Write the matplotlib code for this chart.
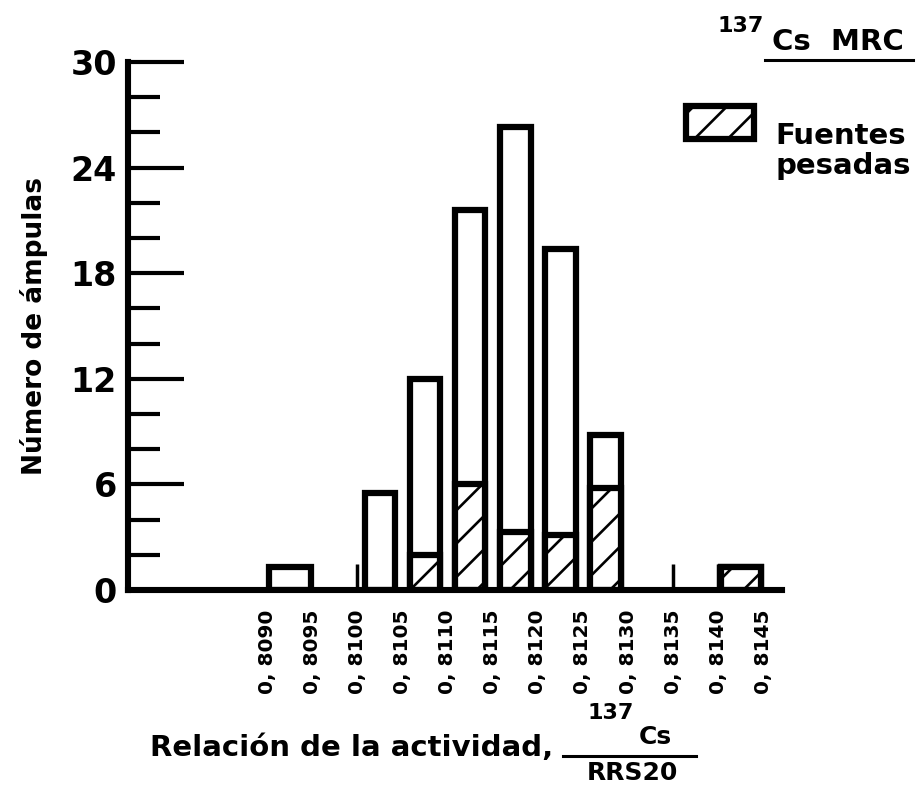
import matplotlib
matplotlib.use("Agg")
import matplotlib.pyplot as plt
from matplotlib.lines import Line2D
from matplotlib.patches import Rectangle

# Histogram of 137Cs activity ratios (bins of 0.0005)
bin_left = [0.8090, 0.8100, 0.8105, 0.8110, 0.8115, 0.8120, 0.8125, 0.8140]
total_counts = [1.3, 5.5, 12.0, 21.6, 26.3, 19.4, 8.8, 1.3]
heavy_counts = [0.0, 0.0, 2.0, 6.0, 3.3, 3.1, 5.8, 1.3]
bar_fraction = [0.93, 0.68, 0.68, 0.68, 0.68, 0.68, 0.68, 0.88]

# small bin-boundary marks on the baseline
edge_marks = [0.8100, 0.8135, 0.8140]
edge_mark_height = 1.5

tick_values = [0.8090, 0.8095, 0.8100, 0.8105, 0.8110, 0.8115,
               0.8120, 0.8125, 0.8130, 0.8135, 0.8140, 0.8145]
tick_labels = ["0, 8090", "0, 8095", "0, 8100", "0, 8105", "0, 8110", "0, 8115",
               "0, 8120", "0, 8125", "0, 8130", "0, 8135", "0, 8140", "0, 8145"]
bin_width = 0.0005

plt.rcParams["font.family"] = ["DejaVu Sans"]
plt.rcParams["font.weight"] = "bold"
plt.rcParams["hatch.linewidth"] = 1.9

LW = 4.5

fig = plt.figure(figsize=(9.16, 7.85), dpi=100)
ax = fig.add_axes([0.1397, 0.2484, 0.8537 - 0.1397, 0.921 - 0.2484])

for left, tot, heavy, frac in zip(bin_left, total_counts, heavy_counts, bar_fraction):
    center = left + bin_width / 2
    w = bin_width * frac
    ax.bar(center, tot, width=w, facecolor="white", edgecolor="black",
           linewidth=LW, zorder=2)
    if heavy > 0:
        ax.bar(center, heavy, width=w, facecolor="white", edgecolor="black",
               hatch="/", linewidth=LW, zorder=3)

ax.vlines(edge_marks, 0, edge_mark_height, color="black", linewidth=2.5, zorder=2)

ax.set_xlim(0.807457, 0.814707)
ax.set_ylim(0, 30)

for side in ["top", "right"]:
    ax.spines[side].set_visible(False)
for side in ["left", "bottom"]:
    ax.spines[side].set_linewidth(4.4)
    ax.spines[side].set_zorder(4)

ax.set_yticks([0, 6, 12, 18, 24, 30])
ax.set_yticks([2, 4, 8, 10, 14, 16, 20, 22, 26, 28], minor=True)
ax.tick_params(axis="y", which="major", direction="in", length=40, width=3,
               labelsize=24, pad=8)
ax.tick_params(axis="y", which="minor", direction="in", length=23, width=3)
for lbl in ax.get_yticklabels():
    lbl.set_fontweight("bold")

ax.set_xticks(tick_values)
ax.set_xticklabels(tick_labels, rotation=90, fontsize=14.5, fontweight="bold")
ax.tick_params(axis="x", length=0, pad=14)

ax.set_ylabel("Número de ámpulas", fontsize=19, fontweight="bold", labelpad=16)

# x axis label with activity ratio fraction
fig.text(150 / 916, 1 - 748 / 785, "Relación de la actividad,", fontsize=21,
         fontweight="bold", ha="left", va="center")
fig.text(611 / 916, 1 - 713 / 785, "137", fontsize=16, fontweight="bold",
         ha="center", va="center")
fig.text(655 / 916, 1 - 737 / 785, "Cs", fontsize=18, ha="center", va="center")
fig.add_artist(Line2D([563 / 916, 696 / 916], [1 - 756 / 785, 1 - 756 / 785],
                      color="black", linewidth=2.2))
fig.text(632 / 916, 1 - 773 / 785, "RRS20", fontsize=18, fontweight="bold",
         ha="center", va="center")

# corner title
fig.text(741 / 916, 1 - 26 / 785, "137", fontsize=16, fontweight="bold",
         ha="center", va="center")
fig.text(838 / 916, 1 - 42 / 785, "Cs  MRC", fontsize=21, fontweight="bold",
         ha="center", va="center")
fig.add_artist(Line2D([765 / 916, 913 / 916], [1 - 60 / 785, 1 - 60 / 785],
                      color="black", linewidth=2.2))

# legend swatch
fig.add_artist(Rectangle((686 / 916, 1 - 139 / 785), 68 / 916, 33 / 785,
                         facecolor="white", edgecolor="black", hatch="/",
                         linewidth=LW, transform=fig.transFigure))
fig.text(775 / 916, 1 - 136 / 785, "Fuentes", fontsize=21, fontweight="bold",
         ha="left", va="center")
fig.text(775 / 916, 1 - 166 / 785, "pesadas", fontsize=21, fontweight="bold",
         ha="left", va="center")

fig.savefig("out.png", dpi=100)
